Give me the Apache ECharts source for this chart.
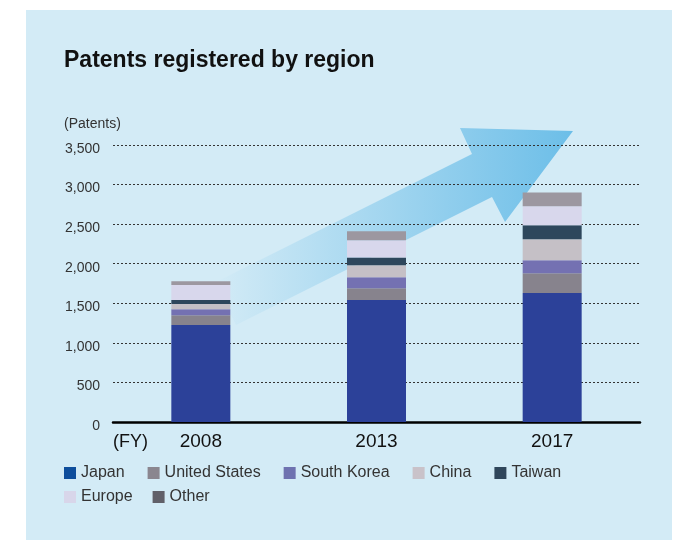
<!DOCTYPE html>
<html>
<head>
<meta charset="utf-8">
<script src="https://cdn.jsdelivr.net/npm/echarts@6/dist/echarts.min.js"></script>
<style>
  html, body { margin: 0; padding: 0; background: #fff; }
  #chart { width: 684px; height: 540px; }
</style>
</head>
<body>
<div id="chart"></div>
<script>
// fiscal years and patents per region (stacked)
const years = ['2008', '2013', '2017']
const japan = [1225, 1540, 1630]
const unitedStates = [125, 150, 250]
const southKorea = [75, 140, 165]
const china = [65, 150, 265]
const taiwan = [50, 100, 175]
const europe = [190, 215, 240]
const other = [50, 115, 175]

const regions = [
  { name: 'Japan', data: japan, color: '#2c4199', legend: '#0e4e9c' },
  { name: 'United States', data: unitedStates, color: '#87838d', legend: '#8a868f' },
  { name: 'South Korea', data: southKorea, color: '#7471b2', legend: '#6e72b0' },
  { name: 'China', data: china, color: '#c5c0c6', legend: '#c9c2c9' },
  { name: 'Taiwan', data: taiwan, color: '#2e475c', legend: '#2f465b' },
  { name: 'Europe', data: europe, color: '#d8d7ec', legend: '#d8d6ea' },
  { name: 'Other', data: other, color: '#9c97a0', legend: '#606069' }
]

const font = '"Liberation Sans", Arial, Helvetica, sans-serif'

function legendRow(names, top, gap) {
  return {
    left: 64,
    top: top,
    padding: 0,
    itemGap: gap,
    itemWidth: 12,
    itemHeight: 12,
    icon: 'rect',
    selectedMode: false,
    textStyle: { color: '#333', fontSize: 16, fontFamily: font },
    data: names.map(n => {
      const r = regions.find(x => x.name === n)
      return { name: n, itemStyle: { color: r.legend } }
    })
  }
}

const chart = echarts.init(document.getElementById('chart'), null, { renderer: 'canvas' })

chart.setOption({
  backgroundColor: 'transparent',
  animation: false,
  title: {
    text: 'Patents registered by region',
    left: 59,
    top: 44,
    textStyle: { color: '#111', fontSize: 23, fontWeight: 'bold', fontFamily: font }
  },
  legend: [
    legendRow(['Japan', 'United States', 'South Korea', 'China', 'Taiwan'], 465, 23),
    legendRow(['Europe', 'Other'], 489, 20)
  ],
  grid: { left: 113, right: 44, top: 145, bottom: 118 },
  graphic: [
    // light blue panel
    {
      type: 'rect',
      z: -10,
      shape: { x: 26, y: 10, width: 646, height: 530 },
      style: { fill: '#d3ebf6' }
    },
    // growth arrow behind the bars
    {
      type: 'polygon',
      z: -5,
      shape: {
        points: [[215, 282.5], [472, 154], [460, 128], [573, 131], [505, 222], [492, 197], [236, 325]]
      },
      style: {
        fill: {
          type: 'linear', x: 215, y: 0, x2: 573, y2: 0, global: true,
          colorStops: [
            { offset: 0, color: 'rgba(108,190,232,0)' },
            { offset: 1, color: 'rgba(108,190,232,1)' }
          ]
        }
      }
    }
  ],
  xAxis: {
    type: 'category',
    data: years,
    name: '(FY)',
    nameLocation: 'start',
    nameGap: 0,
    nameTextStyle: {
      color: '#111', fontSize: 18, fontFamily: font,
      align: 'left', verticalAlign: 'top', padding: [11, 0, 0, 0]
    },
    axisLine: { lineStyle: { color: '#000', width: 2.5 } },
    axisTick: { show: false },
    axisLabel: { color: '#111', fontSize: 19, fontFamily: font, margin: 10 }
  },
  yAxis: {
    type: 'value',
    min: 0,
    max: 3500,
    interval: 500,
    name: '(Patents)',
    nameLocation: 'end',
    nameGap: 14,
    nameTextStyle: {
      color: '#333', fontSize: 14, fontFamily: font,
      align: 'left', padding: [0, 0, 0, -49]
    },
    axisLine: { show: false },
    axisTick: { show: false },
    axisLabel: {
      color: '#333', fontSize: 14, fontFamily: font, margin: 13,
      verticalAlign: 'top', lineHeight: 8,
      formatter: v => v.toLocaleString('en-US')
    },
    splitLine: { lineStyle: { color: '#333', type: [2, 2], width: 1 } }
  },
  series: regions.map(r => ({
    name: r.name,
    type: 'bar',
    stack: 'total',
    barWidth: 59,
    itemStyle: { color: r.color },
    data: r.data
  }))
})
</script>
</body>
</html>
